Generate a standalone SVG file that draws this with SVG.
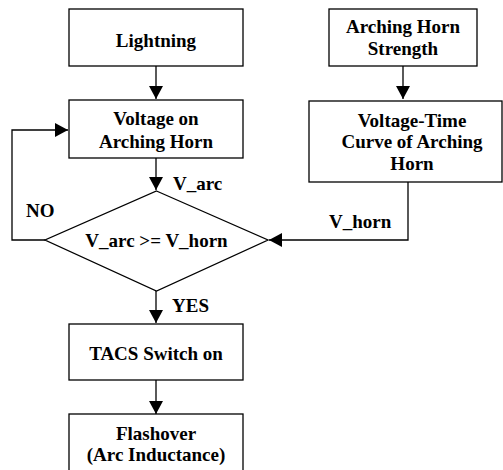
<svg xmlns="http://www.w3.org/2000/svg" width="503" height="470" viewBox="0 0 503 470">
<defs>
<marker id="ah" markerWidth="14" markerHeight="14" viewBox="0 0 13 14" refX="13" refY="7" orient="auto" markerUnits="userSpaceOnUse">
<path d="M0,0 L13,7 L0,14 Z" fill="#000"/>
</marker>
</defs>
<style>
.box{fill:#fff;stroke:#000;stroke-width:1.3}
.t{font-family:"Liberation Serif","Times New Roman",serif;font-weight:bold;font-size:19px;fill:#000;text-anchor:middle}
.l{font-family:"Liberation Serif","Times New Roman",serif;font-weight:bold;font-size:19px;fill:#000}
.c{fill:none;stroke:#000;stroke-width:1.3}
</style>
<rect width="503" height="470" fill="#fff"/>
<g id="connectors">
<path class="c" d="M156,66 V99" marker-end="url(#ah)"/>
<path class="c" d="M156,158 V190" marker-end="url(#ah)"/>
<path class="c" d="M45,240 H12 V130 H68" marker-end="url(#ah)"/>
<path class="c" d="M403,66 V99" marker-end="url(#ah)"/>
<path class="c" d="M408,182 V240 H269" marker-end="url(#ah)"/>
<path class="c" d="M156,291 V323" marker-end="url(#ah)"/>
<path class="c" d="M156,380 V414" marker-end="url(#ah)"/>
<text class="l" x="173" y="190">V_arc</text>
<text class="l" x="26" y="217">NO</text>
<text class="l" x="329" y="228">V_horn</text>
<text class="l" x="172" y="312">YES</text>
</g>
<g id="lightning">
<rect class="box" x="69" y="9" width="174" height="57"/>
<text class="t" x="156" y="47">Lightning</text>
</g>
<g id="voltage">
<rect class="box" x="69" y="100" width="174" height="58"/>
<text class="t" x="156" y="125">Voltage on</text>
<text class="t" x="156" y="148">Arching Horn</text>
</g>
<g id="strength">
<rect class="box" x="329" y="9" width="148" height="57"/>
<text class="t" x="403" y="33">Arching Horn</text>
<text class="t" x="403" y="55">Strength</text>
</g>
<g id="vtcurve">
<rect class="box" x="309" y="101" width="193" height="81"/>
<text class="t" x="412" y="127">Voltage-Time</text>
<text class="t" x="412" y="148">Curve of Arching</text>
<text class="t" x="412" y="170">Horn</text>
</g>
<g id="decision">
<path class="box" d="M156.5,191 L268,240 L156.5,291 L45,240 Z"/>
<text class="t" x="156.5" y="247">V_arc &gt;= V_horn</text>
</g>
<g id="tacs">
<rect class="box" x="69" y="324" width="174" height="56"/>
<text class="t" x="156" y="360">TACS Switch on</text>
</g>
<g id="flashover">
<rect class="box" x="69" y="414" width="174" height="70"/>
<text class="t" x="156" y="440">Flashover</text>
<text class="t" x="156" y="461">(Arc Inductance)</text>
</g>
</svg>
